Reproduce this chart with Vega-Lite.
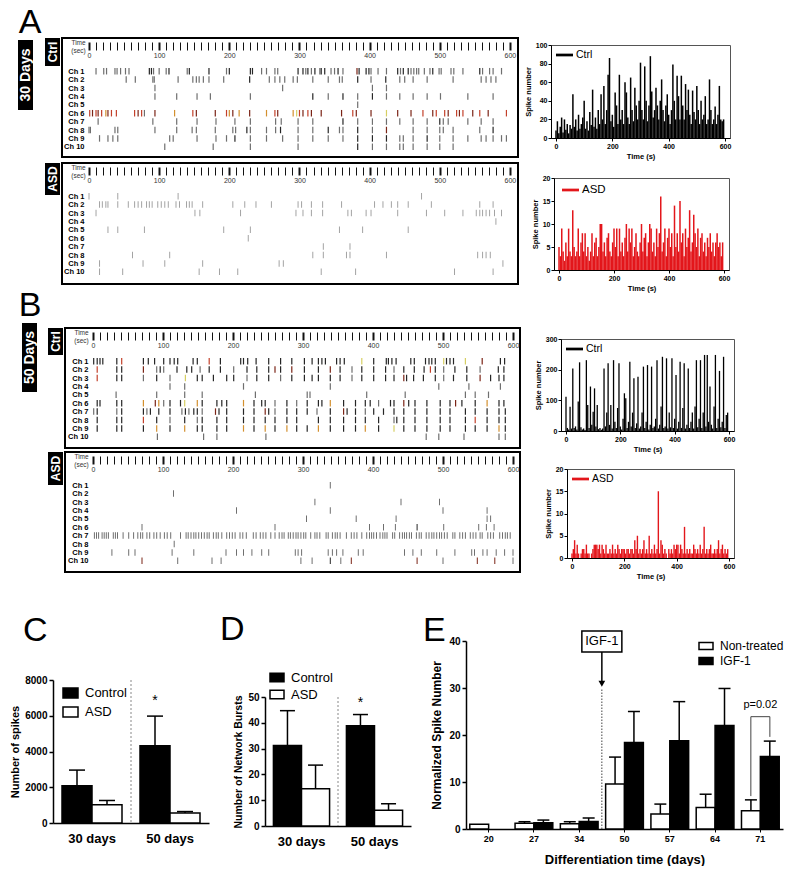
{
"$schema":"https://vega.github.io/schema/vega-lite/v6.json",
"background":"white","padding":0,"spacing":0,
"resolve":{"scale":{"color":"independent","fill":"independent","xOffset":"independent"}},
"config":{"view":{"stroke":null},"font":"Liberation Sans",
 "axis":{"grid":false,"domainColor":"black","tickColor":"black","labelColor":"black","titleColor":"black","labelFont":"Liberation Sans","titleFont":"Liberation Sans","labelFontWeight":"bold","titleFontWeight":"bold","labelFontSize":7,"titleFontSize":7.5,"tickSize":3,"labelPadding":1,"titlePadding":3},
 "legend":{"labelFont":"Liberation Sans","padding":0,"labelColor":"black"},
 "text":{"font":"Liberation Sans"}},
"datasets":{
"rc30":[
{"c":1,"t":10,"a":1},{"c":1,"t":21,"a":1},{"c":1,"t":25,"a":1},{"c":1,"t":37,"a":1},{"c":1,"t":40,"a":1},{"c":1,"t":45,"a":1},{"c":1,"t":52,"a":1},{"c":1,"t":57,"a":1},{"c":1,"t":86,"a":2},{"c":1,"t":89,"a":2},{"c":1,"t":92,"a":1},{"c":1,"t":100,"a":1},{"c":1,"t":110,"a":1},{"c":1,"t":114,"a":2},{"c":1,"t":140,"a":1},{"c":1,"t":143,"a":2},{"c":1,"t":171,"a":2},{"c":1,"t":196,"a":1},{"c":1,"t":200,"a":2},{"c":1,"t":230,"a":2},{"c":1,"t":233,"a":2},{"c":1,"t":246,"a":1},{"c":1,"t":253,"a":1},{"c":1,"t":265,"a":1},{"c":1,"t":269,"a":1},{"c":1,"t":298,"a":2},{"c":1,"t":305,"a":2},{"c":1,"t":309,"a":1},{"c":1,"t":312,"a":2},{"c":1,"t":317,"a":1},{"c":1,"t":322,"a":2},{"c":1,"t":329,"a":1},{"c":1,"t":331,"a":2},{"c":1,"t":336,"a":2},{"c":1,"t":345,"a":1},{"c":1,"t":350,"a":1},{"c":1,"t":355,"a":2},{"c":1,"t":362,"a":1},{"c":1,"t":382,"a":3},{"c":1,"t":385,"a":2},{"c":1,"t":395,"a":2},{"c":1,"t":399,"a":2},{"c":1,"t":402,"a":1},{"c":1,"t":412,"a":1},{"c":1,"t":424,"a":1},{"c":1,"t":440,"a":2},{"c":1,"t":444,"a":1},{"c":1,"t":448,"a":2},{"c":1,"t":455,"a":2},{"c":1,"t":459,"a":1},{"c":1,"t":463,"a":1},{"c":1,"t":467,"a":1},{"c":1,"t":470,"a":1},{"c":1,"t":478,"a":1},{"c":1,"t":486,"a":1},{"c":1,"t":490,"a":2},{"c":1,"t":499,"a":1},{"c":1,"t":502,"a":1},{"c":1,"t":516,"a":1},{"c":1,"t":520,"a":1},{"c":1,"t":533,"a":1},{"c":1,"t":557,"a":2},{"c":1,"t":561,"a":1},{"c":1,"t":571,"a":1},{"c":1,"t":576,"a":1},{"c":1,"t":588,"a":1},
{"c":2,"t":53,"a":1},{"c":2,"t":66,"a":1},{"c":2,"t":91,"a":1},{"c":2,"t":93,"a":1},{"c":2,"t":127,"a":1},{"c":2,"t":148,"a":1},{"c":2,"t":153,"a":1},{"c":2,"t":157,"a":1},{"c":2,"t":163,"a":1},{"c":2,"t":171,"a":1},{"c":2,"t":192,"a":1},{"c":2,"t":229,"a":2},{"c":2,"t":257,"a":1},{"c":2,"t":265,"a":1},{"c":2,"t":272,"a":1},{"c":2,"t":279,"a":1},{"c":2,"t":291,"a":1},{"c":2,"t":297,"a":1},{"c":2,"t":319,"a":1},{"c":2,"t":341,"a":1},{"c":2,"t":357,"a":1},{"c":2,"t":361,"a":1},{"c":2,"t":383,"a":2},{"c":2,"t":402,"a":1},{"c":2,"t":423,"a":2},{"c":2,"t":443,"a":1},{"c":2,"t":450,"a":1},{"c":2,"t":462,"a":1},{"c":2,"t":482,"a":1},{"c":2,"t":519,"a":1},{"c":2,"t":559,"a":1},{"c":2,"t":566,"a":1},{"c":2,"t":573,"a":1},{"c":2,"t":580,"a":1},
{"c":3,"t":94,"a":1},{"c":3,"t":276,"a":1},{"c":3,"t":404,"a":1},{"c":3,"t":424,"a":1},
{"c":4,"t":94,"a":1},{"c":4,"t":125,"a":1},{"c":4,"t":154,"a":1},{"c":4,"t":173,"a":1},{"c":4,"t":230,"a":1},{"c":4,"t":319,"a":2},{"c":4,"t":341,"a":1},{"c":4,"t":362,"a":2},{"c":4,"t":383,"a":1},{"c":4,"t":404,"a":2},{"c":4,"t":424,"a":1},{"c":4,"t":443,"a":1},{"c":4,"t":462,"a":1},{"c":4,"t":482,"a":1},{"c":4,"t":501,"a":1},{"c":4,"t":540,"a":1},{"c":4,"t":576,"a":1},
{"c":5,"t":383,"a":1},
{"c":6,"t":1,"a":4},{"c":6,"t":5,"a":3},{"c":6,"t":10,"a":4},{"c":6,"t":13,"a":3},{"c":6,"t":18,"a":4},{"c":6,"t":24,"a":5},{"c":6,"t":27,"a":3},{"c":6,"t":32,"a":4},{"c":6,"t":39,"a":4},{"c":6,"t":65,"a":4},{"c":6,"t":70,"a":3},{"c":6,"t":75,"a":4},{"c":6,"t":79,"a":1},{"c":6,"t":94,"a":3},{"c":6,"t":122,"a":5},{"c":6,"t":148,"a":4},{"c":6,"t":153,"a":3},{"c":6,"t":180,"a":3},{"c":6,"t":196,"a":4},{"c":6,"t":200,"a":5},{"c":6,"t":205,"a":3},{"c":6,"t":214,"a":5},{"c":6,"t":229,"a":3},{"c":6,"t":253,"a":5},{"c":6,"t":265,"a":4},{"c":6,"t":269,"a":3},{"c":6,"t":291,"a":5},{"c":6,"t":296,"a":6},{"c":6,"t":300,"a":4},{"c":6,"t":305,"a":3},{"c":6,"t":312,"a":4},{"c":6,"t":317,"a":3},{"c":6,"t":331,"a":3},{"c":6,"t":360,"a":3},{"c":6,"t":376,"a":4},{"c":6,"t":381,"a":3},{"c":6,"t":402,"a":3},{"c":6,"t":424,"a":6},{"c":6,"t":440,"a":3},{"c":6,"t":459,"a":3},{"c":6,"t":476,"a":4},{"c":6,"t":490,"a":3},{"c":6,"t":495,"a":4},{"c":6,"t":507,"a":4},{"c":6,"t":512,"a":3},{"c":6,"t":524,"a":4},{"c":6,"t":528,"a":3},{"c":6,"t":533,"a":4},{"c":6,"t":547,"a":3},{"c":6,"t":557,"a":4},{"c":6,"t":569,"a":3},{"c":6,"t":595,"a":4},
{"c":7,"t":13,"a":1},{"c":7,"t":91,"a":1},{"c":7,"t":125,"a":1},{"c":7,"t":154,"a":1},{"c":7,"t":181,"a":1},{"c":7,"t":208,"a":1},{"c":7,"t":230,"a":1},{"c":7,"t":266,"a":1},{"c":7,"t":274,"a":1},{"c":7,"t":298,"a":1},{"c":7,"t":319,"a":1},{"c":7,"t":362,"a":2},{"c":7,"t":383,"a":1},{"c":7,"t":404,"a":1},{"c":7,"t":424,"a":1},{"c":7,"t":443,"a":1},{"c":7,"t":462,"a":1},{"c":7,"t":482,"a":1},{"c":7,"t":500,"a":2},{"c":7,"t":505,"a":1},{"c":7,"t":512,"a":1},{"c":7,"t":540,"a":1},{"c":7,"t":559,"a":1},{"c":7,"t":576,"a":1},
{"c":8,"t":0,"a":1},{"c":8,"t":2,"a":1},{"c":8,"t":37,"a":1},{"c":8,"t":41,"a":1},{"c":8,"t":94,"a":1},{"c":8,"t":125,"a":1},{"c":8,"t":147,"a":1},{"c":8,"t":153,"a":1},{"c":8,"t":180,"a":1},{"c":8,"t":205,"a":1},{"c":8,"t":209,"a":1},{"c":8,"t":225,"a":2},{"c":8,"t":230,"a":1},{"c":8,"t":253,"a":1},{"c":8,"t":266,"a":1},{"c":8,"t":273,"a":2},{"c":8,"t":298,"a":1},{"c":8,"t":319,"a":1},{"c":8,"t":341,"a":2},{"c":8,"t":357,"a":1},{"c":8,"t":362,"a":1},{"c":8,"t":383,"a":2},{"c":8,"t":404,"a":1},{"c":8,"t":424,"a":3},{"c":8,"t":462,"a":1},{"c":8,"t":482,"a":1},{"c":8,"t":500,"a":1},{"c":8,"t":505,"a":1},{"c":8,"t":519,"a":1},{"c":8,"t":557,"a":1},{"c":8,"t":576,"a":2},
{"c":9,"t":15,"a":1},{"c":9,"t":27,"a":1},{"c":9,"t":34,"a":1},{"c":9,"t":41,"a":1},{"c":9,"t":115,"a":1},{"c":9,"t":120,"a":1},{"c":9,"t":154,"a":1},{"c":9,"t":181,"a":1},{"c":9,"t":196,"a":1},{"c":9,"t":208,"a":2},{"c":9,"t":230,"a":1},{"c":9,"t":253,"a":1},{"c":9,"t":276,"a":1},{"c":9,"t":298,"a":1},{"c":9,"t":319,"a":1},{"c":9,"t":341,"a":1},{"c":9,"t":362,"a":1},{"c":9,"t":383,"a":2},{"c":9,"t":404,"a":2},{"c":9,"t":424,"a":2},{"c":9,"t":443,"a":1},{"c":9,"t":448,"a":1},{"c":9,"t":462,"a":1},{"c":9,"t":482,"a":2},{"c":9,"t":500,"a":1},{"c":9,"t":519,"a":1},{"c":9,"t":540,"a":1},{"c":9,"t":559,"a":1},{"c":9,"t":566,"a":1},{"c":9,"t":576,"a":1},{"c":9,"t":588,"a":1},{"c":9,"t":595,"a":1},
{"c":10,"t":108,"a":1},{"c":10,"t":177,"a":1},{"c":10,"t":230,"a":1},{"c":10,"t":298,"a":1},{"c":10,"t":383,"a":2},{"c":10,"t":404,"a":1},{"c":10,"t":424,"a":1},{"c":10,"t":443,"a":1},{"c":10,"t":448,"a":1},{"c":10,"t":462,"a":1},{"c":10,"t":482,"a":1},{"c":10,"t":500,"a":1},{"c":10,"t":519,"a":1}
],
"ra30":[
{"c":1,"t":0,"a":0},{"c":1,"t":41,"a":0},{"c":1,"t":127,"a":0},{"c":1,"t":474,"a":0},
{"c":2,"t":15,"a":0},{"c":2,"t":19,"a":0},{"c":2,"t":24,"a":0},{"c":2,"t":27,"a":0},{"c":2,"t":41,"a":0},{"c":2,"t":56,"a":0},{"c":2,"t":65,"a":0},{"c":2,"t":70,"a":0},{"c":2,"t":75,"a":0},{"c":2,"t":82,"a":0},{"c":2,"t":86,"a":0},{"c":2,"t":90,"a":0},{"c":2,"t":98,"a":0},{"c":2,"t":103,"a":0},{"c":2,"t":108,"a":0},{"c":2,"t":113,"a":0},{"c":2,"t":124,"a":0},{"c":2,"t":129,"a":0},{"c":2,"t":139,"a":0},{"c":2,"t":143,"a":0},{"c":2,"t":147,"a":0},{"c":2,"t":162,"a":0},{"c":2,"t":205,"a":0},{"c":2,"t":222,"a":0},{"c":2,"t":238,"a":0},{"c":2,"t":260,"a":0},{"c":2,"t":298,"a":0},{"c":2,"t":303,"a":0},{"c":2,"t":317,"a":0},{"c":2,"t":333,"a":0},{"c":2,"t":360,"a":0},{"c":2,"t":407,"a":0},{"c":2,"t":419,"a":0},{"c":2,"t":431,"a":0},{"c":2,"t":440,"a":0},{"c":2,"t":455,"a":0},{"c":2,"t":488,"a":0},{"c":2,"t":557,"a":0},{"c":2,"t":576,"a":0},
{"c":3,"t":10,"a":0},{"c":3,"t":151,"a":0},{"c":3,"t":158,"a":0},{"c":3,"t":216,"a":0},{"c":3,"t":295,"a":0},{"c":3,"t":305,"a":0},{"c":3,"t":317,"a":0},{"c":3,"t":333,"a":0},{"c":3,"t":369,"a":0},{"c":3,"t":374,"a":0},{"c":3,"t":395,"a":0},{"c":3,"t":402,"a":0},{"c":3,"t":440,"a":0},{"c":3,"t":481,"a":0},{"c":3,"t":507,"a":0},{"c":3,"t":533,"a":0},{"c":3,"t":552,"a":0},{"c":3,"t":557,"a":0},{"c":3,"t":561,"a":0},{"c":3,"t":566,"a":0},{"c":3,"t":571,"a":0},{"c":3,"t":578,"a":0},{"c":3,"t":588,"a":0},
{"c":4,"t":580,"a":0},
{"c":5,"t":27,"a":0},{"c":5,"t":41,"a":0},{"c":5,"t":79,"a":0},{"c":5,"t":192,"a":0},{"c":5,"t":230,"a":0},{"c":5,"t":357,"a":0},{"c":5,"t":390,"a":0},{"c":5,"t":455,"a":0},
{"c":6,"t":227,"a":0},
{"c":7,"t":334,"a":0},{"c":7,"t":372,"a":0},
{"c":8,"t":62,"a":0},{"c":8,"t":115,"a":0},{"c":8,"t":319,"a":0},{"c":8,"t":334,"a":0},{"c":8,"t":367,"a":0},{"c":8,"t":372,"a":0},{"c":8,"t":424,"a":0},{"c":8,"t":554,"a":0},{"c":8,"t":561,"a":0},{"c":8,"t":566,"a":0},{"c":8,"t":572,"a":0},
{"c":9,"t":15,"a":0},{"c":9,"t":77,"a":0},{"c":9,"t":108,"a":0},{"c":9,"t":162,"a":0},{"c":9,"t":271,"a":0},{"c":9,"t":277,"a":0},{"c":9,"t":590,"a":0},
{"c":10,"t":15,"a":0},{"c":10,"t":48,"a":0},{"c":10,"t":157,"a":0},{"c":10,"t":186,"a":0},{"c":10,"t":212,"a":0},{"c":10,"t":331,"a":0},{"c":10,"t":380,"a":0},{"c":10,"t":521,"a":0},{"c":10,"t":576,"a":0}
],
"rc50":[
{"c":1,"t":1,"a":2},{"c":1,"t":6,"a":2},{"c":1,"t":10,"a":2},{"c":1,"t":14,"a":2},{"c":1,"t":34,"a":2},{"c":1,"t":41,"a":4},{"c":1,"t":72,"a":2},{"c":1,"t":79,"a":2},{"c":1,"t":88,"a":2},{"c":1,"t":101,"a":2},{"c":1,"t":110,"a":2},{"c":1,"t":116,"a":2},{"c":1,"t":121,"a":2},{"c":1,"t":143,"a":2},{"c":1,"t":149,"a":2},{"c":1,"t":166,"a":4},{"c":1,"t":182,"a":2},{"c":1,"t":211,"a":2},{"c":1,"t":215,"a":2},{"c":1,"t":221,"a":2},{"c":1,"t":233,"a":2},{"c":1,"t":251,"a":2},{"c":1,"t":268,"a":2},{"c":1,"t":284,"a":2},{"c":1,"t":302,"a":2},{"c":1,"t":313,"a":2},{"c":1,"t":322,"a":2},{"c":1,"t":327,"a":2},{"c":1,"t":332,"a":2},{"c":1,"t":348,"a":2},{"c":1,"t":353,"a":2},{"c":1,"t":359,"a":2},{"c":1,"t":384,"a":6},{"c":1,"t":401,"a":2},{"c":1,"t":419,"a":2},{"c":1,"t":422,"a":2},{"c":1,"t":427,"a":2},{"c":1,"t":433,"a":2},{"c":1,"t":454,"a":2},{"c":1,"t":459,"a":2},{"c":1,"t":475,"a":2},{"c":1,"t":480,"a":2},{"c":1,"t":484,"a":2},{"c":1,"t":489,"a":2},{"c":1,"t":501,"a":6},{"c":1,"t":505,"a":2},{"c":1,"t":510,"a":2},{"c":1,"t":515,"a":2},{"c":1,"t":532,"a":6},{"c":1,"t":556,"a":3},{"c":1,"t":582,"a":2},{"c":1,"t":588,"a":2},
{"c":2,"t":6,"a":4},{"c":2,"t":34,"a":2},{"c":2,"t":41,"a":2},{"c":2,"t":72,"a":3},{"c":2,"t":91,"a":1},{"c":2,"t":96,"a":2},{"c":2,"t":101,"a":1},{"c":2,"t":120,"a":2},{"c":2,"t":134,"a":2},{"c":2,"t":141,"a":2},{"c":2,"t":153,"a":1},{"c":2,"t":166,"a":2},{"c":2,"t":182,"a":2},{"c":2,"t":201,"a":1},{"c":2,"t":220,"a":2},{"c":2,"t":234,"a":2},{"c":2,"t":251,"a":2},{"c":2,"t":260,"a":3},{"c":2,"t":268,"a":2},{"c":2,"t":284,"a":3},{"c":2,"t":302,"a":2},{"c":2,"t":322,"a":2},{"c":2,"t":339,"a":3},{"c":2,"t":353,"a":2},{"c":2,"t":370,"a":1},{"c":2,"t":384,"a":2},{"c":2,"t":401,"a":2},{"c":2,"t":418,"a":2},{"c":2,"t":430,"a":1},{"c":2,"t":444,"a":2},{"c":2,"t":459,"a":2},{"c":2,"t":473,"a":2},{"c":2,"t":482,"a":4},{"c":2,"t":489,"a":2},{"c":2,"t":501,"a":1},{"c":2,"t":517,"a":2},{"c":2,"t":534,"a":2},{"c":2,"t":553,"a":1},{"c":2,"t":579,"a":2},{"c":2,"t":587,"a":2},
{"c":3,"t":6,"a":4},{"c":3,"t":34,"a":2},{"c":3,"t":41,"a":2},{"c":3,"t":72,"a":1},{"c":3,"t":91,"a":2},{"c":3,"t":110,"a":1},{"c":3,"t":132,"a":6},{"c":3,"t":149,"a":2},{"c":3,"t":156,"a":2},{"c":3,"t":172,"a":2},{"c":3,"t":191,"a":2},{"c":3,"t":201,"a":2},{"c":3,"t":220,"a":1},{"c":3,"t":234,"a":2},{"c":3,"t":251,"a":2},{"c":3,"t":268,"a":1},{"c":3,"t":284,"a":2},{"c":3,"t":302,"a":2},{"c":3,"t":313,"a":2},{"c":3,"t":322,"a":2},{"c":3,"t":339,"a":2},{"c":3,"t":353,"a":2},{"c":3,"t":370,"a":1},{"c":3,"t":384,"a":2},{"c":3,"t":401,"a":2},{"c":3,"t":418,"a":2},{"c":3,"t":430,"a":2},{"c":3,"t":444,"a":3},{"c":3,"t":448,"a":2},{"c":3,"t":458,"a":2},{"c":3,"t":472,"a":2},{"c":3,"t":489,"a":2},{"c":3,"t":501,"a":1},{"c":3,"t":515,"a":2},{"c":3,"t":534,"a":2},{"c":3,"t":553,"a":3},{"c":3,"t":568,"a":2},{"c":3,"t":580,"a":2},{"c":3,"t":587,"a":2},
{"c":4,"t":110,"a":1},{"c":4,"t":131,"a":1},{"c":4,"t":215,"a":1},{"c":4,"t":339,"a":1},{"c":4,"t":494,"a":1},{"c":4,"t":537,"a":1},{"c":4,"t":582,"a":1},
{"c":5,"t":33,"a":1},{"c":5,"t":91,"a":1},{"c":5,"t":131,"a":1},{"c":5,"t":156,"a":1},{"c":5,"t":232,"a":1},{"c":5,"t":306,"a":1},{"c":5,"t":310,"a":1},{"c":5,"t":391,"a":1},{"c":5,"t":446,"a":1},{"c":5,"t":532,"a":1},{"c":5,"t":546,"a":1},{"c":5,"t":565,"a":1},
{"c":6,"t":6,"a":2},{"c":6,"t":10,"a":2},{"c":6,"t":34,"a":2},{"c":6,"t":41,"a":2},{"c":6,"t":72,"a":5},{"c":6,"t":89,"a":3},{"c":6,"t":94,"a":5},{"c":6,"t":101,"a":1},{"c":6,"t":110,"a":2},{"c":6,"t":125,"a":2},{"c":6,"t":131,"a":6},{"c":6,"t":149,"a":5},{"c":6,"t":156,"a":2},{"c":6,"t":177,"a":2},{"c":6,"t":184,"a":2},{"c":6,"t":191,"a":2},{"c":6,"t":215,"a":5},{"c":6,"t":230,"a":2},{"c":6,"t":241,"a":2},{"c":6,"t":246,"a":2},{"c":6,"t":260,"a":1},{"c":6,"t":277,"a":2},{"c":6,"t":291,"a":1},{"c":6,"t":306,"a":2},{"c":6,"t":322,"a":2},{"c":6,"t":327,"a":2},{"c":6,"t":339,"a":5},{"c":6,"t":358,"a":2},{"c":6,"t":375,"a":2},{"c":6,"t":389,"a":2},{"c":6,"t":396,"a":2},{"c":6,"t":408,"a":1},{"c":6,"t":425,"a":2},{"c":6,"t":430,"a":2},{"c":6,"t":444,"a":3},{"c":6,"t":451,"a":2},{"c":6,"t":460,"a":2},{"c":6,"t":477,"a":2},{"c":6,"t":496,"a":2},{"c":6,"t":510,"a":2},{"c":6,"t":518,"a":3},{"c":6,"t":527,"a":2},{"c":6,"t":546,"a":2},{"c":6,"t":563,"a":5},{"c":6,"t":580,"a":2},{"c":6,"t":587,"a":2},
{"c":7,"t":1,"a":1},{"c":7,"t":6,"a":2},{"c":7,"t":34,"a":1},{"c":7,"t":41,"a":2},{"c":7,"t":72,"a":2},{"c":7,"t":77,"a":1},{"c":7,"t":82,"a":2},{"c":7,"t":94,"a":2},{"c":7,"t":110,"a":2},{"c":7,"t":127,"a":1},{"c":7,"t":132,"a":2},{"c":7,"t":137,"a":1},{"c":7,"t":144,"a":2},{"c":7,"t":149,"a":2},{"c":7,"t":156,"a":1},{"c":7,"t":175,"a":3},{"c":7,"t":180,"a":2},{"c":7,"t":191,"a":2},{"c":7,"t":215,"a":2},{"c":7,"t":230,"a":2},{"c":7,"t":246,"a":3},{"c":7,"t":251,"a":2},{"c":7,"t":260,"a":1},{"c":7,"t":277,"a":2},{"c":7,"t":291,"a":2},{"c":7,"t":306,"a":2},{"c":7,"t":320,"a":1},{"c":7,"t":339,"a":2},{"c":7,"t":358,"a":3},{"c":7,"t":363,"a":2},{"c":7,"t":375,"a":2},{"c":7,"t":389,"a":1},{"c":7,"t":401,"a":2},{"c":7,"t":415,"a":2},{"c":7,"t":430,"a":2},{"c":7,"t":444,"a":2},{"c":7,"t":460,"a":2},{"c":7,"t":477,"a":2},{"c":7,"t":496,"a":2},{"c":7,"t":510,"a":2},{"c":7,"t":532,"a":2},{"c":7,"t":546,"a":2},{"c":7,"t":563,"a":2},{"c":7,"t":580,"a":2},{"c":7,"t":589,"a":2},
{"c":8,"t":6,"a":2},{"c":8,"t":34,"a":2},{"c":8,"t":41,"a":2},{"c":8,"t":72,"a":4},{"c":8,"t":91,"a":2},{"c":8,"t":110,"a":1},{"c":8,"t":131,"a":2},{"c":8,"t":149,"a":1},{"c":8,"t":156,"a":2},{"c":8,"t":177,"a":2},{"c":8,"t":191,"a":2},{"c":8,"t":215,"a":2},{"c":8,"t":230,"a":2},{"c":8,"t":246,"a":2},{"c":8,"t":260,"a":2},{"c":8,"t":277,"a":2},{"c":8,"t":291,"a":2},{"c":8,"t":322,"a":2},{"c":8,"t":339,"a":2},{"c":8,"t":358,"a":2},{"c":8,"t":375,"a":2},{"c":8,"t":389,"a":2},{"c":8,"t":408,"a":2},{"c":8,"t":430,"a":1},{"c":8,"t":434,"a":2},{"c":8,"t":444,"a":2},{"c":8,"t":460,"a":2},{"c":8,"t":477,"a":2},{"c":8,"t":496,"a":2},{"c":8,"t":510,"a":2},{"c":8,"t":532,"a":2},{"c":8,"t":546,"a":4},{"c":8,"t":563,"a":2},{"c":8,"t":580,"a":2},{"c":8,"t":589,"a":2},
{"c":9,"t":6,"a":2},{"c":9,"t":34,"a":2},{"c":9,"t":41,"a":2},{"c":9,"t":72,"a":2},{"c":9,"t":91,"a":5},{"c":9,"t":110,"a":2},{"c":9,"t":131,"a":5},{"c":9,"t":149,"a":2},{"c":9,"t":156,"a":2},{"c":9,"t":177,"a":2},{"c":9,"t":191,"a":2},{"c":9,"t":215,"a":5},{"c":9,"t":230,"a":2},{"c":9,"t":246,"a":5},{"c":9,"t":260,"a":2},{"c":9,"t":277,"a":5},{"c":9,"t":291,"a":2},{"c":9,"t":306,"a":2},{"c":9,"t":322,"a":5},{"c":9,"t":339,"a":2},{"c":9,"t":358,"a":2},{"c":9,"t":375,"a":2},{"c":9,"t":389,"a":5},{"c":9,"t":408,"a":2},{"c":9,"t":430,"a":6},{"c":9,"t":444,"a":2},{"c":9,"t":460,"a":2},{"c":9,"t":477,"a":2},{"c":9,"t":496,"a":2},{"c":9,"t":510,"a":2},{"c":9,"t":532,"a":2},{"c":9,"t":546,"a":2},{"c":9,"t":563,"a":2},{"c":9,"t":580,"a":5},{"c":9,"t":589,"a":2},
{"c":10,"t":92,"a":1},{"c":10,"t":158,"a":1},{"c":10,"t":177,"a":1},{"c":10,"t":247,"a":1},{"c":10,"t":476,"a":1},{"c":10,"t":494,"a":1},{"c":10,"t":530,"a":1},{"c":10,"t":580,"a":1},{"c":10,"t":589,"a":1}
],
"ra50":[
{"c":1,"t":339,"a":1},{"c":2,"t":115,"a":1},
{"c":3,"t":317,"a":1},{"c":3,"t":440,"a":1},{"c":3,"t":495,"a":1},
{"c":4,"t":205,"a":1},{"c":4,"t":339,"a":1},{"c":4,"t":500,"a":1},{"c":4,"t":563,"a":1},
{"c":5,"t":305,"a":1},{"c":5,"t":376,"a":1},{"c":5,"t":433,"a":1},{"c":5,"t":563,"a":1},{"c":5,"t":568,"a":1},
{"c":6,"t":70,"a":1},{"c":6,"t":260,"a":1},{"c":6,"t":395,"a":1},{"c":6,"t":415,"a":1},{"c":6,"t":432,"a":1},{"c":6,"t":463,"a":2},{"c":6,"t":501,"a":1},{"c":6,"t":551,"a":1},{"c":6,"t":562,"a":1},{"c":6,"t":573,"a":1},
{"c":7,"t":2,"a":1},{"c":7,"t":5,"a":1},{"c":7,"t":8,"a":1},{"c":7,"t":13,"a":1},{"c":7,"t":16,"a":1},{"c":7,"t":19,"a":1},{"c":7,"t":22,"a":1},{"c":7,"t":29,"a":1},{"c":7,"t":32,"a":1},{"c":7,"t":35,"a":1},{"c":7,"t":43,"a":1},{"c":7,"t":51,"a":1},{"c":7,"t":58,"a":1},{"c":7,"t":64,"a":1},{"c":7,"t":68,"a":1},{"c":7,"t":71,"a":1},{"c":7,"t":77,"a":1},{"c":7,"t":81,"a":1},{"c":7,"t":87,"a":1},{"c":7,"t":91,"a":1},{"c":7,"t":96,"a":1},{"c":7,"t":102,"a":1},{"c":7,"t":106,"a":1},{"c":7,"t":111,"a":1},{"c":7,"t":125,"a":1},{"c":7,"t":133,"a":1},{"c":7,"t":136,"a":1},{"c":7,"t":140,"a":1},{"c":7,"t":144,"a":1},{"c":7,"t":147,"a":1},{"c":7,"t":151,"a":1},{"c":7,"t":155,"a":1},{"c":7,"t":159,"a":1},{"c":7,"t":163,"a":1},{"c":7,"t":166,"a":1},{"c":7,"t":172,"a":1},{"c":7,"t":176,"a":1},{"c":7,"t":179,"a":1},{"c":7,"t":184,"a":1},{"c":7,"t":191,"a":1},{"c":7,"t":195,"a":1},{"c":7,"t":199,"a":1},{"c":7,"t":203,"a":1},{"c":7,"t":210,"a":1},{"c":7,"t":214,"a":1},{"c":7,"t":219,"a":1},{"c":7,"t":229,"a":1},{"c":7,"t":233,"a":1},{"c":7,"t":239,"a":1},{"c":7,"t":243,"a":1},{"c":7,"t":247,"a":1},{"c":7,"t":254,"a":1},{"c":7,"t":260,"a":1},{"c":7,"t":266,"a":1},{"c":7,"t":270,"a":1},{"c":7,"t":273,"a":1},{"c":7,"t":279,"a":1},{"c":7,"t":282,"a":1},{"c":7,"t":286,"a":1},{"c":7,"t":290,"a":1},{"c":7,"t":293,"a":1},{"c":7,"t":297,"a":1},{"c":7,"t":301,"a":1},{"c":7,"t":304,"a":1},{"c":7,"t":311,"a":1},{"c":7,"t":317,"a":1},{"c":7,"t":320,"a":1},{"c":7,"t":324,"a":1},{"c":7,"t":333,"a":1},{"c":7,"t":336,"a":1},{"c":7,"t":342,"a":1},{"c":7,"t":346,"a":1},{"c":7,"t":349,"a":1},{"c":7,"t":353,"a":1},{"c":7,"t":362,"a":1},{"c":7,"t":369,"a":1},{"c":7,"t":373,"a":1},{"c":7,"t":377,"a":1},{"c":7,"t":384,"a":1},{"c":7,"t":391,"a":1},{"c":7,"t":395,"a":1},{"c":7,"t":398,"a":1},{"c":7,"t":401,"a":1},{"c":7,"t":405,"a":1},{"c":7,"t":410,"a":1},{"c":7,"t":414,"a":1},{"c":7,"t":417,"a":1},{"c":7,"t":420,"a":1},{"c":7,"t":428,"a":1},{"c":7,"t":431,"a":1},{"c":7,"t":438,"a":1},{"c":7,"t":442,"a":1},{"c":7,"t":445,"a":1},{"c":7,"t":448,"a":1},{"c":7,"t":452,"a":1},{"c":7,"t":455,"a":1},{"c":7,"t":462,"a":1},{"c":7,"t":466,"a":1},{"c":7,"t":469,"a":1},{"c":7,"t":476,"a":1},{"c":7,"t":480,"a":1},{"c":7,"t":484,"a":1},{"c":7,"t":487,"a":1},{"c":7,"t":491,"a":1},{"c":7,"t":495,"a":1},{"c":7,"t":498,"a":1},{"c":7,"t":502,"a":1},{"c":7,"t":506,"a":1},{"c":7,"t":514,"a":1},{"c":7,"t":517,"a":1},{"c":7,"t":524,"a":1},{"c":7,"t":528,"a":1},{"c":7,"t":532,"a":1},{"c":7,"t":539,"a":1},{"c":7,"t":543,"a":1},{"c":7,"t":547,"a":1},{"c":7,"t":553,"a":1},{"c":7,"t":556,"a":1},{"c":7,"t":564,"a":1},{"c":7,"t":568,"a":1},{"c":7,"t":572,"a":1},{"c":7,"t":581,"a":1},{"c":7,"t":585,"a":1},{"c":7,"t":589,"a":1},{"c":7,"t":592,"a":1},{"c":7,"t":596,"a":1},
{"c":8,"t":116,"a":1},
{"c":9,"t":27,"a":1},{"c":9,"t":51,"a":1},{"c":9,"t":60,"a":1},{"c":9,"t":113,"a":1},{"c":9,"t":144,"a":1},{"c":9,"t":190,"a":1},{"c":9,"t":205,"a":1},{"c":9,"t":215,"a":1},{"c":9,"t":227,"a":1},{"c":9,"t":241,"a":1},{"c":9,"t":251,"a":1},{"c":9,"t":289,"a":1},{"c":9,"t":293,"a":1},{"c":9,"t":298,"a":1},{"c":9,"t":336,"a":1},{"c":9,"t":342,"a":1},{"c":9,"t":348,"a":1},{"c":9,"t":357,"a":1},{"c":9,"t":379,"a":1},{"c":9,"t":386,"a":1},{"c":9,"t":445,"a":1},{"c":9,"t":457,"a":1},{"c":9,"t":469,"a":1},{"c":9,"t":491,"a":1},{"c":9,"t":517,"a":1},{"c":9,"t":541,"a":1},{"c":9,"t":545,"a":1},{"c":9,"t":557,"a":1},{"c":9,"t":563,"a":1},{"c":9,"t":576,"a":1},{"c":9,"t":588,"a":1},{"c":9,"t":600,"a":1},
{"c":10,"t":70,"a":3},{"c":10,"t":121,"a":1},{"c":10,"t":170,"a":1},{"c":10,"t":183,"a":1},{"c":10,"t":297,"a":1},{"c":10,"t":313,"a":1},{"c":10,"t":339,"a":2},{"c":10,"t":354,"a":1},{"c":10,"t":369,"a":3},{"c":10,"t":463,"a":3},{"c":10,"t":500,"a":1},{"c":10,"t":549,"a":3},{"c":10,"t":574,"a":3},{"c":10,"t":600,"a":1}
],
"hc30":[{"t":0,"v":8},{"t":5,"v":18},{"t":10,"v":5},{"t":15,"v":12},{"t":20,"v":22},{"t":25,"v":6},{"t":30,"v":20},{"t":35,"v":9},{"t":40,"v":15},{"t":45,"v":5},{"t":50,"v":14},{"t":55,"v":10},{"t":60,"v":47},{"t":65,"v":12},{"t":70,"v":20},{"t":75,"v":8},{"t":80,"v":25},{"t":85,"v":10},{"t":90,"v":15},{"t":95,"v":22},{"t":100,"v":40},{"t":105,"v":10},{"t":110,"v":18},{"t":115,"v":8},{"t":120,"v":28},{"t":125,"v":14},{"t":130,"v":52},{"t":135,"v":12},{"t":140,"v":22},{"t":145,"v":10},{"t":150,"v":30},{"t":155,"v":15},{"t":160,"v":47},{"t":165,"v":20},{"t":170,"v":56},{"t":175,"v":15},{"t":180,"v":30},{"t":185,"v":68},{"t":190,"v":86},{"t":195,"v":18},{"t":200,"v":25},{"t":205,"v":12},{"t":210,"v":49},{"t":215,"v":35},{"t":220,"v":15},{"t":225,"v":68},{"t":230,"v":20},{"t":235,"v":30},{"t":240,"v":15},{"t":245,"v":60},{"t":250,"v":49},{"t":255,"v":22},{"t":260,"v":15},{"t":265,"v":65},{"t":270,"v":30},{"t":275,"v":18},{"t":280,"v":54},{"t":285,"v":35},{"t":290,"v":20},{"t":295,"v":40},{"t":300,"v":81},{"t":305,"v":30},{"t":310,"v":20},{"t":315,"v":77},{"t":320,"v":40},{"t":325,"v":18},{"t":330,"v":35},{"t":335,"v":88},{"t":340,"v":50},{"t":345,"v":22},{"t":350,"v":30},{"t":355,"v":54},{"t":360,"v":35},{"t":365,"v":20},{"t":370,"v":40},{"t":375,"v":63},{"t":380,"v":30},{"t":385,"v":18},{"t":390,"v":35},{"t":395,"v":47},{"t":400,"v":25},{"t":405,"v":15},{"t":410,"v":30},{"t":415,"v":79},{"t":420,"v":40},{"t":425,"v":20},{"t":430,"v":67},{"t":435,"v":45},{"t":440,"v":20},{"t":445,"v":67},{"t":450,"v":35},{"t":455,"v":20},{"t":460,"v":58},{"t":465,"v":30},{"t":470,"v":52},{"t":475,"v":25},{"t":480,"v":15},{"t":485,"v":51},{"t":490,"v":28},{"t":495,"v":20},{"t":500,"v":56},{"t":505,"v":30},{"t":510,"v":15},{"t":515,"v":40},{"t":520,"v":20},{"t":525,"v":25},{"t":530,"v":45},{"t":535,"v":15},{"t":540,"v":20},{"t":545,"v":63},{"t":550,"v":30},{"t":555,"v":15},{"t":560,"v":20},{"t":565,"v":34},{"t":570,"v":15},{"t":575,"v":25},{"t":580,"v":56},{"t":585,"v":20},{"t":590,"v":18},{"t":595,"v":20}],
"ha30":[{"t":0,"v":5},{"t":5,"v":3},{"t":10,"v":9},{"t":15,"v":4},{"t":20,"v":2},{"t":25,"v":6},{"t":30,"v":3},{"t":35,"v":9},{"t":40,"v":4},{"t":45,"v":3},{"t":50,"v":13},{"t":55,"v":5},{"t":60,"v":3},{"t":65,"v":4},{"t":70,"v":9},{"t":75,"v":3},{"t":80,"v":6},{"t":85,"v":8},{"t":90,"v":4},{"t":95,"v":8},{"t":100,"v":3},{"t":105,"v":5},{"t":110,"v":2},{"t":115,"v":4},{"t":120,"v":8},{"t":125,"v":3},{"t":130,"v":6},{"t":135,"v":7},{"t":140,"v":3},{"t":145,"v":5},{"t":150,"v":10},{"t":155,"v":10},{"t":160,"v":4},{"t":165,"v":6},{"t":170,"v":3},{"t":175,"v":7},{"t":180,"v":8},{"t":185,"v":4},{"t":190,"v":3},{"t":195,"v":6},{"t":200,"v":9},{"t":205,"v":5},{"t":210,"v":9},{"t":215,"v":3},{"t":220,"v":9},{"t":225,"v":4},{"t":230,"v":6},{"t":235,"v":3},{"t":240,"v":7},{"t":245,"v":10},{"t":250,"v":4},{"t":255,"v":9},{"t":260,"v":6},{"t":265,"v":9},{"t":270,"v":3},{"t":275,"v":5},{"t":280,"v":8},{"t":285,"v":4},{"t":290,"v":3},{"t":295,"v":6},{"t":300,"v":10},{"t":305,"v":4},{"t":310,"v":7},{"t":315,"v":8},{"t":320,"v":3},{"t":325,"v":6},{"t":330,"v":10},{"t":335,"v":9},{"t":340,"v":4},{"t":345,"v":6},{"t":350,"v":3},{"t":355,"v":9},{"t":360,"v":5},{"t":365,"v":8},{"t":370,"v":16},{"t":375,"v":4},{"t":380,"v":6},{"t":385,"v":9},{"t":390,"v":3},{"t":395,"v":7},{"t":400,"v":9},{"t":405,"v":5},{"t":410,"v":8},{"t":415,"v":3},{"t":420,"v":14},{"t":425,"v":5},{"t":430,"v":8},{"t":435,"v":4},{"t":440,"v":15},{"t":445,"v":6},{"t":450,"v":8},{"t":455,"v":3},{"t":460,"v":9},{"t":465,"v":5},{"t":470,"v":7},{"t":475,"v":13},{"t":480,"v":4},{"t":485,"v":6},{"t":490,"v":12},{"t":495,"v":8},{"t":500,"v":5},{"t":505,"v":9},{"t":510,"v":3},{"t":515,"v":7},{"t":520,"v":8},{"t":525,"v":4},{"t":530,"v":6},{"t":535,"v":3},{"t":540,"v":7},{"t":545,"v":5},{"t":550,"v":8},{"t":555,"v":4},{"t":560,"v":6},{"t":565,"v":3},{"t":570,"v":6},{"t":575,"v":8},{"t":580,"v":5},{"t":585,"v":6},{"t":590,"v":3},{"t":595,"v":6}],
"hc50":[{"t":0,"v":112},{"t":5,"v":10},{"t":10,"v":5},{"t":15,"v":79},{"t":20,"v":8},{"t":25,"v":204},{"t":30,"v":10},{"t":35,"v":15},{"t":40,"v":5},{"t":45,"v":96},{"t":50,"v":224},{"t":55,"v":12},{"t":60,"v":5},{"t":65,"v":8},{"t":70,"v":3},{"t":75,"v":231},{"t":80,"v":85},{"t":85,"v":10},{"t":90,"v":145},{"t":95,"v":20},{"t":100,"v":63},{"t":105,"v":139},{"t":110,"v":15},{"t":115,"v":85},{"t":120,"v":6},{"t":125,"v":10},{"t":130,"v":4},{"t":135,"v":8},{"t":140,"v":204},{"t":145,"v":15},{"t":150,"v":60},{"t":155,"v":221},{"t":160,"v":20},{"t":165,"v":85},{"t":170,"v":8},{"t":175,"v":231},{"t":180,"v":30},{"t":185,"v":10},{"t":190,"v":75},{"t":195,"v":221},{"t":200,"v":15},{"t":205,"v":5},{"t":210,"v":40},{"t":215,"v":123},{"t":220,"v":107},{"t":225,"v":10},{"t":230,"v":30},{"t":235,"v":226},{"t":240,"v":15},{"t":245,"v":60},{"t":250,"v":172},{"t":255,"v":10},{"t":260,"v":25},{"t":265,"v":177},{"t":270,"v":8},{"t":275,"v":15},{"t":280,"v":60},{"t":285,"v":210},{"t":290,"v":10},{"t":295,"v":30},{"t":300,"v":215},{"t":305,"v":5},{"t":310,"v":20},{"t":315,"v":210},{"t":320,"v":10},{"t":325,"v":15},{"t":330,"v":40},{"t":335,"v":231},{"t":340,"v":8},{"t":345,"v":20},{"t":350,"v":80},{"t":355,"v":242},{"t":360,"v":10},{"t":365,"v":15},{"t":370,"v":237},{"t":375,"v":8},{"t":380,"v":60},{"t":385,"v":12},{"t":390,"v":237},{"t":395,"v":10},{"t":400,"v":40},{"t":405,"v":183},{"t":410,"v":8},{"t":415,"v":30},{"t":420,"v":226},{"t":425,"v":10},{"t":430,"v":75},{"t":435,"v":221},{"t":440,"v":8},{"t":445,"v":20},{"t":450,"v":204},{"t":455,"v":10},{"t":460,"v":30},{"t":465,"v":60},{"t":470,"v":8},{"t":475,"v":80},{"t":480,"v":231},{"t":485,"v":12},{"t":490,"v":40},{"t":495,"v":231},{"t":500,"v":10},{"t":505,"v":60},{"t":510,"v":248},{"t":515,"v":15},{"t":520,"v":248},{"t":525,"v":30},{"t":530,"v":145},{"t":535,"v":20},{"t":540,"v":8},{"t":545,"v":80},{"t":550,"v":248},{"t":555,"v":10},{"t":560,"v":40},{"t":565,"v":196},{"t":570,"v":12},{"t":575,"v":30},{"t":580,"v":242},{"t":585,"v":10},{"t":590,"v":52},{"t":595,"v":60}],
"ha50":[{"t":0,"v":1},{"t":5,"v":2},{"t":10,"v":4},{"t":15,"v":1},{"t":20,"v":3},{"t":25,"v":1},{"t":30,"v":0},{"t":35,"v":1},{"t":40,"v":2},{"t":45,"v":2},{"t":50,"v":1},{"t":55,"v":3},{"t":60,"v":1},{"t":65,"v":1},{"t":70,"v":0},{"t":75,"v":1},{"t":80,"v":2},{"t":85,"v":3},{"t":90,"v":3},{"t":95,"v":3},{"t":100,"v":2},{"t":105,"v":3},{"t":110,"v":1},{"t":115,"v":3},{"t":120,"v":2},{"t":125,"v":1},{"t":130,"v":3},{"t":135,"v":1},{"t":140,"v":1},{"t":145,"v":2},{"t":150,"v":1},{"t":155,"v":3},{"t":160,"v":1},{"t":165,"v":2},{"t":170,"v":1},{"t":175,"v":3},{"t":180,"v":2},{"t":185,"v":1},{"t":190,"v":2},{"t":195,"v":2},{"t":200,"v":2},{"t":205,"v":1},{"t":210,"v":2},{"t":215,"v":2},{"t":220,"v":1},{"t":225,"v":2},{"t":230,"v":2},{"t":235,"v":1},{"t":240,"v":4},{"t":245,"v":2},{"t":250,"v":5},{"t":255,"v":1},{"t":260,"v":2},{"t":265,"v":1},{"t":270,"v":2},{"t":275,"v":4},{"t":280,"v":1},{"t":285,"v":2},{"t":290,"v":1},{"t":295,"v":5},{"t":300,"v":1},{"t":305,"v":2},{"t":310,"v":1},{"t":315,"v":3},{"t":320,"v":1},{"t":325,"v":2},{"t":330,"v":15},{"t":335,"v":1},{"t":340,"v":4},{"t":345,"v":3},{"t":350,"v":1},{"t":355,"v":2},{"t":360,"v":1},{"t":365,"v":0},{"t":370,"v":2},{"t":375,"v":1},{"t":380,"v":2},{"t":385,"v":1},{"t":390,"v":3},{"t":395,"v":2},{"t":400,"v":3},{"t":405,"v":3},{"t":410,"v":1},{"t":415,"v":3},{"t":420,"v":2},{"t":425,"v":1},{"t":430,"v":7},{"t":435,"v":1},{"t":440,"v":2},{"t":445,"v":1},{"t":450,"v":2},{"t":455,"v":1},{"t":460,"v":1},{"t":465,"v":3},{"t":470,"v":2},{"t":475,"v":1},{"t":480,"v":2},{"t":485,"v":1},{"t":490,"v":3},{"t":495,"v":1},{"t":500,"v":2},{"t":505,"v":7},{"t":510,"v":1},{"t":515,"v":2},{"t":520,"v":1},{"t":525,"v":2},{"t":530,"v":3},{"t":535,"v":1},{"t":540,"v":1},{"t":545,"v":2},{"t":550,"v":1},{"t":555,"v":2},{"t":560,"v":4},{"t":565,"v":1},{"t":570,"v":2},{"t":575,"v":3},{"t":580,"v":1},{"t":585,"v":2},{"t":590,"v":1},{"t":595,"v":2}],
"cdat":[{"g":"30 days","s":"Control","v":2080,"e":2960,"sig":""},{"g":"30 days","s":"ASD","v":1020,"e":1260,"sig":""},{"g":"50 days","s":"Control","v":4320,"e":5980,"sig":"*"},{"g":"50 days","s":"ASD","v":556,"e":640,"sig":""}],
"ddat":[{"g":"30 days","s":"Control","v":31.2,"e":44.7,"sig":""},{"g":"30 days","s":"ASD","v":14.4,"e":23.6,"sig":""},{"g":"50 days","s":"Control","v":38.9,"e":43.2,"sig":"*"},{"g":"50 days","s":"ASD","v":6.1,"e":8.6,"sig":""}],
"edat":[{"d":"20","s":"Non-treated","v":1.0},{"d":"27","s":"Non-treated","v":1.2,"e":1.55},{"d":"27","s":"IGF-1","v":1.35,"e":1.9},{"d":"34","s":"Non-treated","v":1.1,"e":1.55},{"d":"34","s":"IGF-1","v":1.6,"e":2.35},{"d":"50","s":"Non-treated","v":9.6,"e":15.3},{"d":"50","s":"IGF-1","v":18.4,"e":25.0},{"d":"57","s":"Non-treated","v":3.2,"e":5.3},{"d":"57","s":"IGF-1","v":18.8,"e":27.1},{"d":"64","s":"Non-treated","v":4.6,"e":7.4},{"d":"64","s":"IGF-1","v":22.0,"e":29.9},{"d":"71","s":"Non-treated","v":3.9,"e":6.2},{"d":"71","s":"IGF-1","v":15.4,"e":18.7}]
},
"vconcat":[
{"spacing":0,"resolve":{"scale":{"color":"independent","fill":"independent","xOffset":"independent"}},"hconcat":[
 {"width":18,"height":1,"data":{"values":[]},"mark":"point"},
 {"spacing":0,"resolve":{"scale":{"color":"independent","fill":"independent","xOffset":"independent"}},"vconcat":[
  {"width":1,"height":6,"data":{"values":[]},"mark":"point"},
  {"width":24,"height":34,"data":{"values":[{"l":"A"}]},"mark":{"type":"text","fontSize":34,"baseline":"alphabetic","dy":10,"align":"center"},"encoding":{"text":{"field":"l"}}},
  {"width":15,"height":70,"view":{"fill":"black","stroke":null},"data":{"values":[{"l":"30 Days"}]},"mark":{"type":"text","angle":270,"color":"white","fontWeight":"bold","fontSize":14,"baseline":"middle","align":"center"},"encoding":{"text":{"field":"l"}}},
  {"width":1,"height":179,"data":{"values":[]},"mark":"point"},
  {"width":24,"height":34,"data":{"values":[{"l":"B"}]},"mark":{"type":"text","fontSize":34,"baseline":"alphabetic","dy":10,"align":"center"},"encoding":{"text":{"field":"l"}}},
  {"spacing":0,"resolve":{"scale":{"color":"independent","fill":"independent","xOffset":"independent"}},"hconcat":[
   {"width":4,"height":1,"data":{"values":[]},"mark":"point"},
   {"width":15,"height":69,"view":{"fill":"black","stroke":null},"data":{"values":[{"l":"50 Days"}]},"mark":{"type":"text","angle":270,"color":"white","fontWeight":"bold","fontSize":14,"baseline":"middle","align":"center"},"encoding":{"text":{"field":"l"}}}
  ]},
  {"width":1,"height":203,"data":{"values":[]},"mark":"point"}
 ]},
 {"width":3,"height":1,"data":{"values":[]},"mark":"point"},
 {"spacing":0,"resolve":{"scale":{"color":"independent","fill":"independent","xOffset":"independent"}},"vconcat":[
  {"width":1,"height":37,"data":{"values":[]},"mark":"point"},
  {"spacing":0,"resolve":{"scale":{"color":"independent","fill":"independent","xOffset":"independent"}},"hconcat":[
   {"width":15,"height":28,"view":{"fill":"black","stroke":null},"data":{"values":[{"l":"Ctrl"}]},"mark":{"type":"text","angle":270,"color":"white","fontWeight":"bold","fontSize":12,"baseline":"middle","align":"center"},"encoding":{"text":{"field":"l"}}},
   {"width":1,"height":1,"data":{"values":[]},"mark":"point"},
   {"width":456,"height":119,"view":{"stroke":"black","strokeWidth":2},"data":{"name":"rc30"},"mark":{"type":"tick","thickness":1.2,"size":6.5,"opacity":1},
    "encoding":{"x":{"field":"t","type":"quantitative","scale":{"domain":[-38.5,611.5],"nice":false,"zero":false},"axis":{"orient":"bottom","offset":-115,"values":[0,10,20,30,40,50,60,70,80,90,100,110,120,130,140,150,160,170,180,190,200,210,220,230,240,250,260,270,280,290,300,310,320,330,340,350,360,370,380,390,400,410,420,430,440,450,460,470,480,490,500,510,520,530,540,550,560,570,580,590,600],"labelExpr":"datum.value % 100 === 0 ? datum.label : ''","domain":false,"tickSize":8,"tickColor":"#111","tickWidth":{"condition":{"test":"datum.value % 100 === 0","value":2},"value":1},"labelFontSize":7,"labelFontWeight":"normal","labelColor":"#333","labelPadding":1,"labelOverlap":false,"labelFlush":false,"title":["Time","(sec)"],"titleFontSize":6.5,"titleFontWeight":"normal","titleColor":"#333","titleX":16,"titleY":-3,"titleBaseline":"top","titleAlign":"center","titleAngle":0,"titleLineHeight":8}},
     "y":{"field":"c","type":"ordinal","scale":{"type":"point","domain":[1,2,3,4,5,6,7,8,9,10],"range":[29,113]},"axis":{"orient":"left","offset":-22,"domain":false,"ticks":false,"tickSize":0,"labelPadding":0,"labelExpr":"'Ch ' + datum.value","labelFontSize":7.5,"labelFontWeight":"bold","labelColor":"black","title":null}},
     "color":{"field":"a","type":"nominal","scale":{"domain":[0,1,2,3,4,5,6],"range":["#a3a3a3","#6f6f6f","#262626","#7b2416","#c3402a","#d3902f","#d6cf63"]},"legend":null}}}
  ]},
  {"width":1,"height":4,"data":{"values":[]},"mark":"point"},
  {"spacing":0,"resolve":{"scale":{"color":"independent","fill":"independent","xOffset":"independent"}},"hconcat":[
   {"width":15,"height":32,"view":{"fill":"black","stroke":null},"data":{"values":[{"l":"ASD"}]},"mark":{"type":"text","angle":270,"color":"white","fontWeight":"bold","fontSize":12,"baseline":"middle","align":"center"},"encoding":{"text":{"field":"l"}}},
   {"width":1,"height":1,"data":{"values":[]},"mark":"point"},
   {"width":456,"height":121,"view":{"stroke":"black","strokeWidth":2},"data":{"name":"ra30"},"mark":{"type":"tick","thickness":1,"size":6.5,"opacity":1},
    "encoding":{"x":{"field":"t","type":"quantitative","scale":{"domain":[-38.5,611.5],"nice":false,"zero":false},"axis":{"orient":"bottom","offset":-117,"values":[0,10,20,30,40,50,60,70,80,90,100,110,120,130,140,150,160,170,180,190,200,210,220,230,240,250,260,270,280,290,300,310,320,330,340,350,360,370,380,390,400,410,420,430,440,450,460,470,480,490,500,510,520,530,540,550,560,570,580,590,600],"labelExpr":"datum.value % 100 === 0 ? datum.label : ''","domain":false,"tickSize":8,"tickColor":"#111","tickWidth":{"condition":{"test":"datum.value % 100 === 0","value":2},"value":1},"labelFontSize":7,"labelFontWeight":"normal","labelColor":"#333","labelPadding":1,"labelOverlap":false,"labelFlush":false,"title":["Time","(sec)"],"titleFontSize":6.5,"titleFontWeight":"normal","titleColor":"#333","titleX":16,"titleY":-3,"titleBaseline":"top","titleAlign":"center","titleAngle":0,"titleLineHeight":8}},
     "y":{"field":"c","type":"ordinal","scale":{"type":"point","domain":[1,2,3,4,5,6,7,8,9,10],"range":[29,113]},"axis":{"orient":"left","offset":-22,"domain":false,"ticks":false,"tickSize":0,"labelPadding":0,"labelExpr":"'Ch ' + datum.value","labelFontSize":7.5,"labelFontWeight":"bold","labelColor":"black","title":null}},
     "color":{"field":"a","type":"nominal","scale":{"domain":[0,1,2,3,4,5,6],"range":["#a3a3a3","#6f6f6f","#262626","#7b2416","#c3402a","#d3902f","#d6cf63"]},"legend":null}}}
  ]},
  {"width":1,"height":42,"data":{"values":[]},"mark":"point"},
  {"spacing":0,"resolve":{"scale":{"color":"independent","fill":"independent","xOffset":"independent"}},"hconcat":[
   {"width":3,"height":1,"data":{"values":[]},"mark":"point"},
   {"width":15,"height":27,"view":{"fill":"black","stroke":null},"data":{"values":[{"l":"Ctrl"}]},"mark":{"type":"text","angle":270,"color":"white","fontWeight":"bold","fontSize":12,"baseline":"middle","align":"center"},"encoding":{"text":{"field":"l"}}},
   {"width":1,"height":1,"data":{"values":[]},"mark":"point"},
   {"width":455,"height":120,"view":{"stroke":"black","strokeWidth":2},"data":{"name":"rc50"},"mark":{"type":"tick","thickness":1.2,"size":6.5,"opacity":1},
    "encoding":{"x":{"field":"t","type":"quantitative","scale":{"domain":[-40,610],"nice":false,"zero":false},"axis":{"orient":"bottom","offset":-116,"values":[0,10,20,30,40,50,60,70,80,90,100,110,120,130,140,150,160,170,180,190,200,210,220,230,240,250,260,270,280,290,300,310,320,330,340,350,360,370,380,390,400,410,420,430,440,450,460,470,480,490,500,510,520,530,540,550,560,570,580,590,600],"labelExpr":"datum.value % 100 === 0 ? datum.label : ''","domain":false,"tickSize":8,"tickColor":"#111","tickWidth":{"condition":{"test":"datum.value % 100 === 0","value":2},"value":1},"labelFontSize":7,"labelFontWeight":"normal","labelColor":"#333","labelPadding":1,"labelOverlap":false,"labelFlush":false,"title":["Time","(sec)"],"titleFontSize":6.5,"titleFontWeight":"normal","titleColor":"#333","titleX":16,"titleY":-3,"titleBaseline":"top","titleAlign":"center","titleAngle":0,"titleLineHeight":8}},
     "y":{"field":"c","type":"ordinal","scale":{"type":"point","domain":[1,2,3,4,5,6,7,8,9,10],"range":[29,113]},"axis":{"orient":"left","offset":-23,"domain":false,"ticks":false,"tickSize":0,"labelPadding":0,"labelExpr":"'Ch ' + datum.value","labelFontSize":7.5,"labelFontWeight":"bold","labelColor":"black","title":null}},
     "color":{"field":"a","type":"nominal","scale":{"domain":[0,1,2,3,4,5,6],"range":["#a3a3a3","#6f6f6f","#262626","#7b2416","#c3402a","#d3902f","#d6cf63"]},"legend":null}}}
  ]},
  {"width":1,"height":2,"data":{"values":[]},"mark":"point"},
  {"spacing":0,"resolve":{"scale":{"color":"independent","fill":"independent","xOffset":"independent"}},"hconcat":[
   {"width":3,"height":1,"data":{"values":[]},"mark":"point"},
   {"width":15,"height":33,"view":{"fill":"black","stroke":null},"data":{"values":[{"l":"ASD"}]},"mark":{"type":"text","angle":270,"color":"white","fontWeight":"bold","fontSize":12,"baseline":"middle","align":"center"},"encoding":{"text":{"field":"l"}}},
   {"width":1,"height":1,"data":{"values":[]},"mark":"point"},
   {"width":455,"height":120,"view":{"stroke":"black","strokeWidth":2},"data":{"name":"ra50"},"mark":{"type":"tick","thickness":1,"size":6.5,"opacity":1},
    "encoding":{"x":{"field":"t","type":"quantitative","scale":{"domain":[-40,610],"nice":false,"zero":false},"axis":{"orient":"bottom","offset":-116,"values":[0,10,20,30,40,50,60,70,80,90,100,110,120,130,140,150,160,170,180,190,200,210,220,230,240,250,260,270,280,290,300,310,320,330,340,350,360,370,380,390,400,410,420,430,440,450,460,470,480,490,500,510,520,530,540,550,560,570,580,590,600],"labelExpr":"datum.value % 100 === 0 ? datum.label : ''","domain":false,"tickSize":8,"tickColor":"#111","tickWidth":{"condition":{"test":"datum.value % 100 === 0","value":2},"value":1},"labelFontSize":7,"labelFontWeight":"normal","labelColor":"#333","labelPadding":1,"labelOverlap":false,"labelFlush":false,"title":["Time","(sec)"],"titleFontSize":6.5,"titleFontWeight":"normal","titleColor":"#333","titleX":16,"titleY":-3,"titleBaseline":"top","titleAlign":"center","titleAngle":0,"titleLineHeight":8}},
     "y":{"field":"c","type":"ordinal","scale":{"type":"point","domain":[1,2,3,4,5,6,7,8,9,10],"range":[29,113]},"axis":{"orient":"left","offset":-23,"domain":false,"ticks":false,"tickSize":0,"labelPadding":0,"labelExpr":"'Ch ' + datum.value","labelFontSize":7.5,"labelFontWeight":"bold","labelColor":"black","title":null}},
     "color":{"field":"a","type":"nominal","scale":{"domain":[0,1,2,3,4,5,6],"range":["#a3a3a3","#6f6f6f","#262626","#7b2416","#c3402a","#d3902f","#d6cf63"]},"legend":null}}}
  ]}
 ]},
 {"spacing":0,"resolve":{"scale":{"color":"independent","fill":"independent","xOffset":"independent"}},"vconcat":[
  {"width":1,"height":40,"data":{"values":[]},"mark":"point"},
  {"spacing":0,"resolve":{"scale":{"color":"independent","fill":"independent","xOffset":"independent"}},"hconcat":[
   {"width":2,"height":1,"data":{"values":[]},"mark":"point"},
   {"width":179,"height":93,"view":{"stroke":"#555","strokeWidth":1},"data":{"name":"hc30"},"mark":{"type":"bar","orient":"vertical","width":1.5},
    "encoding":{"x":{"field":"t","type":"quantitative","scale":{"domain":[0,600],"nice":false},"axis":{"values":[0,200,400,600],"title":"Time (s)","labelFlush":false}},
     "y":{"field":"v","type":"quantitative","scale":{"domain":[0,100],"nice":false},"axis":{"values":[0,20,40,60,80,100],"title":"Spike number"}},
     "color":{"datum":"Ctrl","scale":{"range":["black"]},"legend":{"orient":"none","legendX":4,"legendY":0.5,"title":null,"symbolType":"M-1,-0.16L1,-0.16L1,0.16L-1,0.16Z","symbolSize":289,"labelFontSize":10.5,"labelFontWeight":"normal","labelOffset":2}}}}
  ]},
  {"width":1,"height":13,"data":{"values":[]},"mark":"point"},
  {"spacing":0,"resolve":{"scale":{"color":"independent","fill":"independent","xOffset":"independent"}},"hconcat":[
   {"width":9,"height":1,"data":{"values":[]},"mark":"point"},
   {"width":175,"height":92,"view":{"stroke":"#555","strokeWidth":1},"data":{"name":"ha30"},"mark":{"type":"bar","orient":"vertical","width":1.5},
    "encoding":{"x":{"field":"t","type":"quantitative","scale":{"domain":[0,600],"nice":false},"axis":{"values":[0,200,400,600],"title":"Time (s)","labelFlush":false}},
     "y":{"field":"v","type":"quantitative","scale":{"domain":[0,20],"nice":false},"axis":{"values":[0,5,10,15,20],"title":"Spike number"}},
     "color":{"datum":"ASD","scale":{"range":["#e3161b"]},"legend":{"orient":"none","legendX":7,"legendY":2.5,"title":null,"symbolType":"M-1,-0.16L1,-0.16L1,0.16L-1,0.16Z","symbolSize":289,"labelFontSize":11.5,"labelFontWeight":"normal","labelOffset":2}}}}
  ]},
  {"width":1,"height":42,"data":{"values":[]},"mark":"point"},
  {"spacing":0,"resolve":{"scale":{"color":"independent","fill":"independent","xOffset":"independent"}},"hconcat":[
   {"width":12,"height":1,"data":{"values":[]},"mark":"point"},
   {"width":173,"height":92,"view":{"stroke":"#555","strokeWidth":1},"data":{"name":"hc50"},"mark":{"type":"bar","orient":"vertical","width":1.3},
    "encoding":{"x":{"field":"t","type":"quantitative","scale":{"domain":[0,600],"nice":false},"axis":{"values":[0,200,400,600],"title":"Time (s)","labelFlush":false}},
     "y":{"field":"v","type":"quantitative","scale":{"domain":[0,300],"nice":false},"axis":{"values":[0,100,200,300],"title":"Spike number"}},
     "color":{"datum":"Ctrl","scale":{"range":["black"]},"legend":{"orient":"none","legendX":4,"legendY":0.5,"title":null,"symbolType":"M-1,-0.16L1,-0.16L1,0.16L-1,0.16Z","symbolSize":289,"labelFontSize":10.5,"labelFontWeight":"normal","labelOffset":2}}}}
  ]},
  {"width":1,"height":11,"data":{"values":[]},"mark":"point"},
  {"spacing":0,"resolve":{"scale":{"color":"independent","fill":"independent","xOffset":"independent"}},"hconcat":[
   {"width":22,"height":1,"data":{"values":[]},"mark":"point"},
   {"width":167,"height":89,"view":{"stroke":"#555","strokeWidth":1},"data":{"name":"ha50"},"mark":{"type":"bar","orient":"vertical","width":1.4},
    "encoding":{"x":{"field":"t","type":"quantitative","scale":{"domain":[0,600],"nice":false},"axis":{"values":[0,200,400,600],"title":"Time (s)","labelFlush":false}},
     "y":{"field":"v","type":"quantitative","scale":{"domain":[0,20],"nice":false},"axis":{"values":[0,5,10,15,20],"title":"Spike number"}},
     "color":{"datum":"ASD","scale":{"range":["#e3161b"]},"legend":{"orient":"none","legendX":4,"legendY":0.5,"title":null,"symbolType":"M-1,-0.16L1,-0.16L1,0.16L-1,0.16Z","symbolSize":289,"labelFontSize":10.5,"labelFontWeight":"normal","labelOffset":2}}}}
  ]}
 ]}
]},
{"spacing":0,"resolve":{"scale":{"color":"independent","fill":"independent","xOffset":"independent"}},"hconcat":[
 {"width":9,"height":1,"data":{"values":[]},"mark":"point"},
 {"spacing":0,"resolve":{"scale":{"color":"independent","fill":"independent","xOffset":"independent"}},"vconcat":[
  {"width":1,"height":18,"data":{"values":[]},"mark":"point"},
  {"width":156,"height":143,
   "title":{"text":"C","anchor":"start","frame":"group","orient":"top","dx":-30,"offset":0.5,"fontSize":34,"fontWeight":"normal","baseline":"alphabetic","font":"Liberation Sans","color":"black"},
   "layer":[
    {"data":{"name":"cdat"},"mark":{"type":"bar","stroke":"black","strokeWidth":1.5},
     "encoding":{
      "x":{"field":"g","type":"nominal","scale":{"domain":["30 days","50 days"],"paddingInner":0,"paddingOuter":0},"axis":{"title":null,"ticks":false,"labelAngle":0,"labelFontSize":13,"labelPadding":9,"domainWidth":1.5}},
      "xOffset":{"field":"s","type":"nominal","scale":{"domain":["Control","ASD"],"paddingOuter":0.3,"paddingInner":0}},
      "y":{"field":"v","type":"quantitative","scale":{"domain":[0,8000],"nice":false},"axis":{"values":[0,2000,4000,6000,8000],"format":"d","labelOverlap":false,"title":"Number of spikes","titleFontSize":11,"labelFontSize":10,"tickSize":4,"domainWidth":1.5,"tickWidth":1.5,"labelPadding":2,"titlePadding":4}},
      "fill":{"field":"s","type":"nominal","scale":{"domain":["Control","ASD"],"range":["black","white"]},"legend":{"orient":"none","legendX":9,"legendY":4.5,"title":null,"symbolType":"M-1,-0.67L1,-0.67L1,0.67L-1,0.67Z","symbolSize":225,"labelFontSize":13,"labelFontWeight":"normal","labelOffset":6,"rowPadding":2}}}},
    {"data":{"name":"cdat"},"mark":{"type":"rule","strokeWidth":1.5,"color":"black"},
     "encoding":{"x":{"field":"g","type":"nominal"},"xOffset":{"field":"s","type":"nominal"},"y":{"field":"v","type":"quantitative","scale":{"domain":[0,8000],"nice":false},"axis":{"values":[0,2000,4000,6000,8000],"format":"d","labelOverlap":false,"title":"Number of spikes","titleFontSize":11,"labelFontSize":10,"tickSize":4,"domainWidth":1.5,"tickWidth":1.5,"labelPadding":2,"titlePadding":4}},"y2":{"field":"e"}}},
    {"data":{"name":"cdat"},"mark":{"type":"tick","orient":"horizontal","size":16,"thickness":1.5,"color":"black","opacity":1},
     "encoding":{"x":{"field":"g","type":"nominal"},"xOffset":{"field":"s","type":"nominal"},"y":{"field":"e","type":"quantitative","scale":{"domain":[0,8000],"nice":false},"axis":{"values":[0,2000,4000,6000,8000],"format":"d","labelOverlap":false,"title":"Number of spikes","titleFontSize":11,"labelFontSize":10,"tickSize":4,"domainWidth":1.5,"tickWidth":1.5,"labelPadding":2,"titlePadding":4}}}},
    {"data":{"values":[{}]},"mark":{"type":"rule","strokeDash":[2,2],"color":"#888","strokeWidth":1},
     "encoding":{"x":{"datum":"50 days","bandPosition":0}}},
    {"data":{"name":"cdat"},"mark":{"type":"text","fontSize":14,"dy":-15,"baseline":"middle"},
     "encoding":{"x":{"field":"g","type":"nominal"},"xOffset":{"field":"s","type":"nominal"},"y":{"field":"e","type":"quantitative","scale":{"domain":[0,8000],"nice":false},"axis":{"values":[0,2000,4000,6000,8000],"format":"d","labelOverlap":false,"title":"Number of spikes","titleFontSize":11,"labelFontSize":10,"tickSize":4,"domainWidth":1.5,"tickWidth":1.5,"labelPadding":2,"titlePadding":4}},"text":{"field":"sig"}}}
   ]}
 ]},
 {"width":11,"height":1,"data":{"values":[]},"mark":"point"},
 {"spacing":0,"resolve":{"scale":{"color":"independent","fill":"independent","xOffset":"independent"}},"vconcat":[
  {"width":1,"height":18,"data":{"values":[]},"mark":"point"},
  {"width":146,"height":129,
   "title":{"text":"D","anchor":"start","frame":"group","orient":"top","dx":-45,"offset":-4.5,"fontSize":34,"fontWeight":"normal","baseline":"alphabetic","font":"Liberation Sans","color":"black"},
   "layer":[
    {"data":{"name":"ddat"},"mark":{"type":"bar","stroke":"black","strokeWidth":1.5},
     "encoding":{
      "x":{"field":"g","type":"nominal","scale":{"domain":["30 days","50 days"],"paddingInner":0,"paddingOuter":0},"axis":{"title":null,"ticks":false,"labelAngle":0,"labelFontSize":13,"labelPadding":9,"domainWidth":1.5}},
      "xOffset":{"field":"s","type":"nominal","scale":{"domain":["Control","ASD"],"paddingOuter":0.3,"paddingInner":0}},
      "y":{"field":"v","type":"quantitative","scale":{"domain":[0,50],"nice":false},"axis":{"values":[0,10,20,30,40,50],"labelOverlap":false,"title":"Number of Network Bursts","titleFontSize":10.5,"labelFontSize":10,"tickSize":4,"domainWidth":1.5,"tickWidth":1.5,"labelPadding":2,"titlePadding":4}},
      "fill":{"field":"s","type":"nominal","scale":{"domain":["Control","ASD"],"range":["black","white"]},"legend":{"orient":"none","legendX":4,"legendY":-27.5,"title":null,"symbolType":"M-1,-0.6L1,-0.6L1,0.6L-1,0.6Z","symbolSize":196,"labelFontSize":13,"labelFontWeight":"normal","labelOffset":6,"rowPadding":1}}}},
    {"data":{"name":"ddat"},"mark":{"type":"rule","strokeWidth":1.5,"color":"black"},
     "encoding":{"x":{"field":"g","type":"nominal"},"xOffset":{"field":"s","type":"nominal"},"y":{"field":"v","type":"quantitative","scale":{"domain":[0,50],"nice":false},"axis":{"values":[0,10,20,30,40,50],"labelOverlap":false,"title":"Number of Network Bursts","titleFontSize":10.5,"labelFontSize":10,"tickSize":4,"domainWidth":1.5,"tickWidth":1.5,"labelPadding":2,"titlePadding":4}},"y2":{"field":"e"}}},
    {"data":{"name":"ddat"},"mark":{"type":"tick","orient":"horizontal","size":15,"thickness":1.5,"color":"black","opacity":1},
     "encoding":{"x":{"field":"g","type":"nominal"},"xOffset":{"field":"s","type":"nominal"},"y":{"field":"e","type":"quantitative","scale":{"domain":[0,50],"nice":false},"axis":{"values":[0,10,20,30,40,50],"labelOverlap":false,"title":"Number of Network Bursts","titleFontSize":10.5,"labelFontSize":10,"tickSize":4,"domainWidth":1.5,"tickWidth":1.5,"labelPadding":2,"titlePadding":4}}}},
    {"data":{"values":[{}]},"mark":{"type":"rule","strokeDash":[2,2],"color":"#888","strokeWidth":1},
     "encoding":{"x":{"datum":"50 days","bandPosition":0}}},
    {"data":{"name":"ddat"},"mark":{"type":"text","fontSize":14,"dy":-12,"baseline":"middle"},
     "encoding":{"x":{"field":"g","type":"nominal"},"xOffset":{"field":"s","type":"nominal"},"y":{"field":"e","type":"quantitative","scale":{"domain":[0,50],"nice":false},"axis":{"values":[0,10,20,30,40,50],"labelOverlap":false,"title":"Number of Network Bursts","titleFontSize":10.5,"labelFontSize":10,"tickSize":4,"domainWidth":1.5,"tickWidth":1.5,"labelPadding":2,"titlePadding":4}},"text":{"field":"sig"}}}
   ]}
 ]},
 {"width":12,"height":1,"data":{"values":[]},"mark":"point"},
 {"spacing":0,"resolve":{"scale":{"color":"independent","fill":"independent","xOffset":"independent"}},"vconcat":[
  {"width":1,"height":18,"data":{"values":[]},"mark":"point"},
  {"width":317,"height":188,
   "title":{"text":"E","anchor":"start","frame":"group","orient":"top","dx":-43,"offset":-46.8,"fontSize":34,"fontWeight":"normal","baseline":"alphabetic","font":"Liberation Sans","color":"black"},
   "layer":[
    {"data":{"name":"edat"},"mark":{"type":"bar","stroke":"black","strokeWidth":1.5},
     "encoding":{
      "x":{"field":"d","type":"nominal","scale":{"domain":["20","27","34","50","57","64","71"],"paddingInner":0,"paddingOuter":0},"axis":{"title":"Differentiation time (days)","labelAngle":0,"labelFontSize":9,"tickSize":3,"titleFontSize":13,"titlePadding":10,"domainWidth":1.5,"labelPadding":2}},
      "xOffset":{"field":"s","type":"nominal","scale":{"domain":["Non-treated","IGF-1"],"paddingOuter":0.2,"paddingInner":0}},
      "y":{"field":"v","type":"quantitative","scale":{"domain":[0,40],"nice":false},"axis":{"values":[0,10,20,30,40],"labelOverlap":false,"title":"Normalized Spike Number","titleFontSize":12,"labelFontSize":10,"tickSize":4,"domainWidth":1.5,"tickWidth":1.5,"labelPadding":2,"titlePadding":5}},
      "fill":{"field":"s","type":"nominal","scale":{"domain":["Non-treated","IGF-1"],"range":["white","black"]},"legend":{"orient":"none","legendX":232,"legendY":-3,"title":null,"symbolType":"M-1,-0.5L1,-0.5L1,0.5L-1,0.5Z","symbolSize":196,"labelFontSize":12,"labelFontWeight":"normal","labelOffset":6,"rowPadding":0}}}},
    {"data":{"name":"edat"},"transform":[{"filter":"isValid(datum.e)"}],"mark":{"type":"rule","strokeWidth":1.5,"color":"black"},
     "encoding":{"x":{"field":"d","type":"nominal"},"xOffset":{"field":"s","type":"nominal"},"y":{"field":"v","type":"quantitative","scale":{"domain":[0,40],"nice":false},"axis":{"values":[0,10,20,30,40],"labelOverlap":false,"title":"Normalized Spike Number","titleFontSize":12,"labelFontSize":10,"tickSize":4,"domainWidth":1.5,"tickWidth":1.5,"labelPadding":2,"titlePadding":5}},"y2":{"field":"e"}}},
    {"data":{"name":"edat"},"transform":[{"filter":"isValid(datum.e)"}],"mark":{"type":"tick","orient":"horizontal","size":12,"thickness":1.5,"color":"black","opacity":1},
     "encoding":{"x":{"field":"d","type":"nominal"},"xOffset":{"field":"s","type":"nominal"},"y":{"field":"e","type":"quantitative","scale":{"domain":[0,40],"nice":false},"axis":{"values":[0,10,20,30,40],"labelOverlap":false,"title":"Normalized Spike Number","titleFontSize":12,"labelFontSize":10,"tickSize":4,"domainWidth":1.5,"tickWidth":1.5,"labelPadding":2,"titlePadding":5}}}},
    {"data":{"values":[{}]},"mark":{"type":"rule","strokeDash":[1.5,1.5],"color":"#444","strokeWidth":1},
     "encoding":{"x":{"datum":"50","bandPosition":0},"y":{"datum":0},"y2":{"datum":30}}},
    {"data":{"values":[{}]},"mark":{"type":"rule","color":"black","strokeWidth":1.5},
     "encoding":{"x":{"datum":"50","bandPosition":0},"y":{"datum":37.7},"y2":{"datum":31.4}}},
    {"data":{"values":[{}]},"mark":{"type":"point","shape":"triangle-down","filled":true,"color":"black","size":45,"opacity":1},
     "encoding":{"x":{"datum":"50","bandPosition":0},"y":{"datum":30.9}}},
    {"data":{"values":[{}]},"mark":{"type":"point","shape":"M-1,-0.525L1,-0.525L1,0.525L-1,0.525Z","size":1600,"filled":true,"fill":"white","stroke":"black","strokeWidth":1.5,"opacity":1},
     "encoding":{"x":{"datum":"50","bandPosition":0},"y":{"datum":39.9}}},
    {"data":{"values":[{}]},"mark":{"type":"text","fontSize":13,"baseline":"middle","align":"center"},
     "encoding":{"x":{"datum":"50","bandPosition":0},"y":{"datum":39.9},"text":{"value":"IGF-1"}}},
    {"data":{"values":[{}]},"mark":{"type":"rule","color":"#444","strokeWidth":1},
     "encoding":{"x":{"datum":"71","bandPosition":0.29},"y":{"datum":23.9},"y2":{"datum":7.0}}},
    {"data":{"values":[{}]},"mark":{"type":"rule","color":"#444","strokeWidth":1},
     "encoding":{"x":{"datum":"71","bandPosition":0.71},"y":{"datum":23.9},"y2":{"datum":19.6}}},
    {"data":{"values":[{}]},"mark":{"type":"tick","orient":"horizontal","size":19,"thickness":1,"color":"#444","opacity":1},
     "encoding":{"x":{"datum":"71"},"y":{"datum":23.9}}},
    {"data":{"values":[{}]},"mark":{"type":"text","fontSize":11,"baseline":"middle","align":"center"},
     "encoding":{"x":{"datum":"71"},"y":{"datum":26.3},"text":{"value":"p=0.02"}}}
   ]}
 ]}
]}
]
}
